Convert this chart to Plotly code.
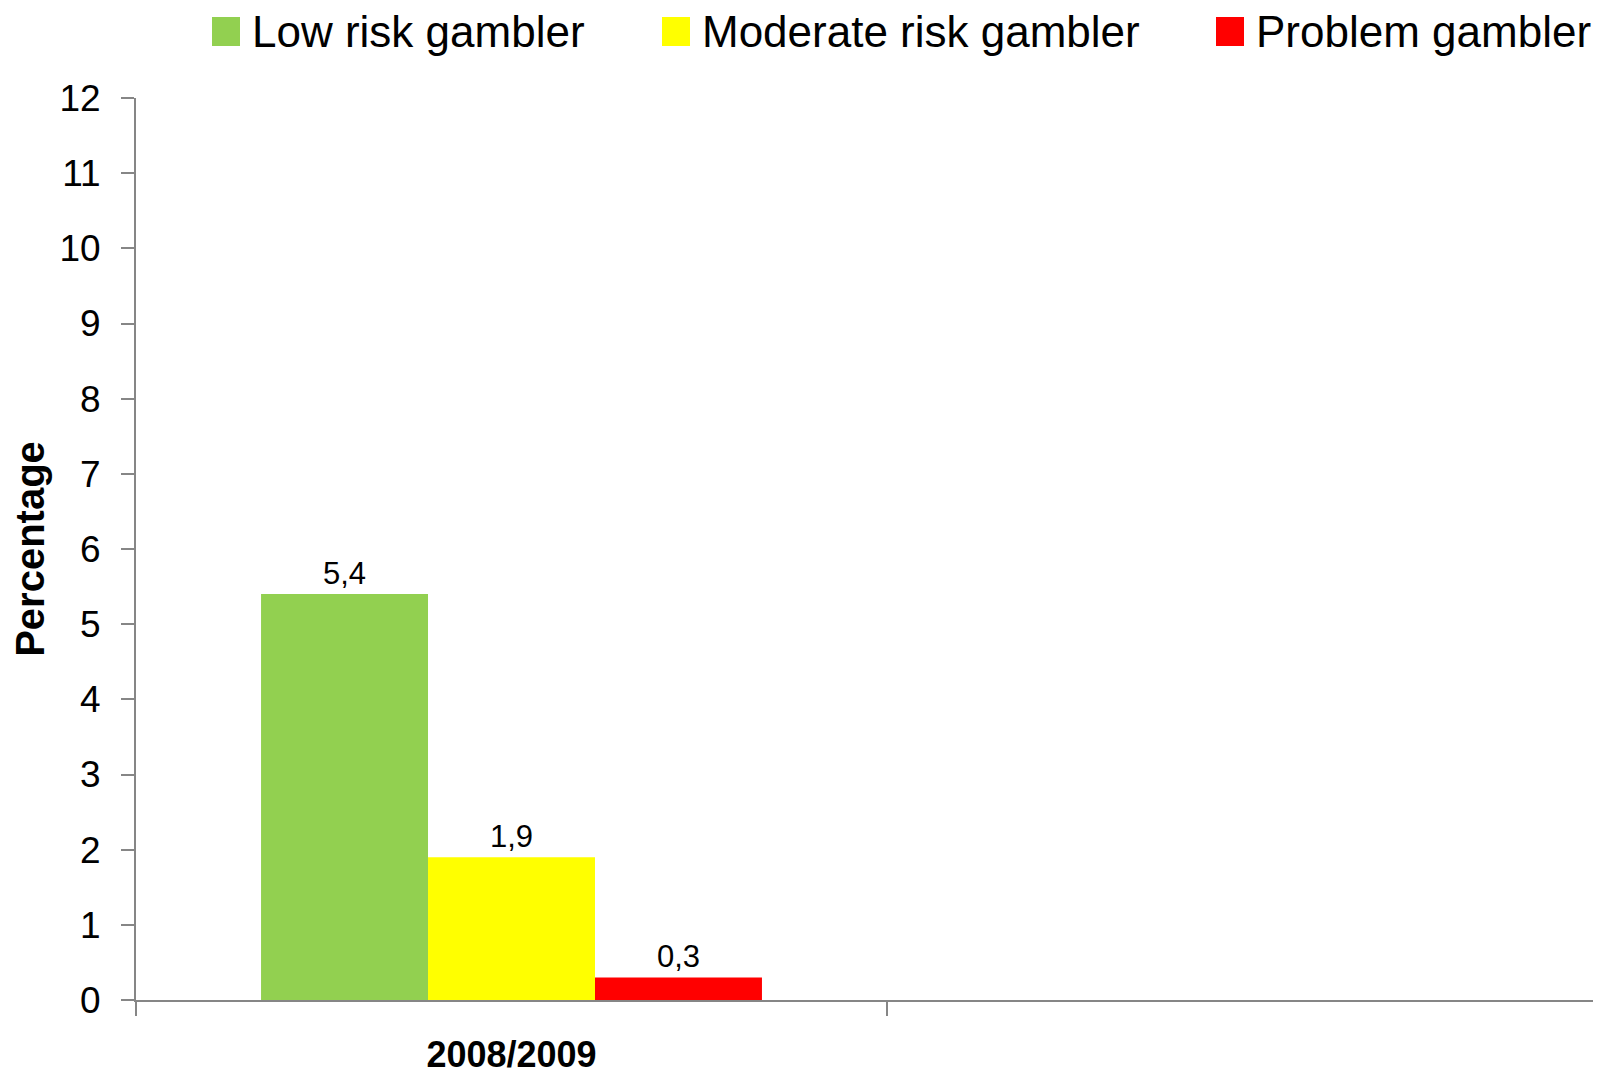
import plotly.graph_objects as go

categories = ["2008/2009", " "]
series_names = ["Low risk gambler", "Moderate risk gambler", "Problem gambler"]
low_risk = [5.4, None]
moderate_risk = [1.9, None]
problem = [0.3, None]
series_values = [low_risk, moderate_risk, problem]
colors = ["#92D050", "#FFFF00", "#FF0000"]
y_ticks = list(range(0, 13))

FONT = "Liberation Sans, Arial, sans-serif"

# page has an 8px body margin; figure coordinates = page coordinates - 8
W, H = 1593, 1066
ml, mr, mt, mb = 128, 0, 90, 74
cat_px = 751
plot_w = W - ml - mr
plot_h = H - mt - mb
x_end = -0.5 + plot_w / cat_px

fig = go.Figure()
for name, vals, col in zip(series_names, series_values, colors):
    fig.add_trace(go.Bar(
        x=categories, y=vals, name=name,
        marker=dict(color=col, line=dict(width=0)),
        texttemplate="%{y:.1f}", textposition="outside",
        textfont=dict(family=FONT, size=31, color="black"),
        cliponaxis=False, showlegend=False,
    ))

# manual legend (large squares as in the reference), page x positions of squares
legend_sq_x = [212, 662, 1216]
for name, col, sx in zip(series_names, colors, legend_sq_x):
    fx = sx - 8
    fig.add_shape(type="rect", xref="paper", yref="paper",
                  x0=(fx - ml) / plot_w, x1=(fx + 28 - ml) / plot_w,
                  y0=1 + (mt - 38) / plot_h, y1=1 + (mt - 9) / plot_h,
                  fillcolor=col, line=dict(width=0))
    fig.add_annotation(xref="paper", yref="paper",
                       x=(fx + 38 - ml) / plot_w, y=1 + (mt - 23) / plot_h,
                       xanchor="left", yanchor="middle", showarrow=False,
                       text=name, font=dict(family=FONT, size=44, color="black"))

fig.update_layout(
    width=W, height=H,
    margin=dict(l=ml, r=mr, t=mt, b=mb, autoexpand=False),
    paper_bgcolor="white", plot_bgcolor="white",
    barmode="group", bargap=0.333, bargroupgap=0,
    separators=",.",
    showlegend=False,
)
fig.update_xaxes(
    type="category", range=[-0.5, x_end],
    showline=True, linecolor="#868686", linewidth=2,
    ticks="outside", tickson="boundaries", ticklen=14, tickcolor="#868686", tickwidth=2,
    tickfont=dict(family=FONT, size=36, color="black", weight="bold"),
    ticklabelstandoff=22,
    showgrid=False, zeroline=False,
)
fig.update_yaxes(
    range=[0, 12], tickvals=y_ticks,
    showline=True, linecolor="#868686", linewidth=2,
    ticks="outside", ticklen=13, tickcolor="#868686", tickwidth=2,
    tickfont=dict(family=FONT, size=37, color="black"),
    ticklabelstandoff=13,
    showgrid=False, zeroline=False,
    title=dict(text="Percentage", font=dict(family=FONT, size=40, color="black", weight="bold"), standoff=22),
)

fig.write_html("out.html")
